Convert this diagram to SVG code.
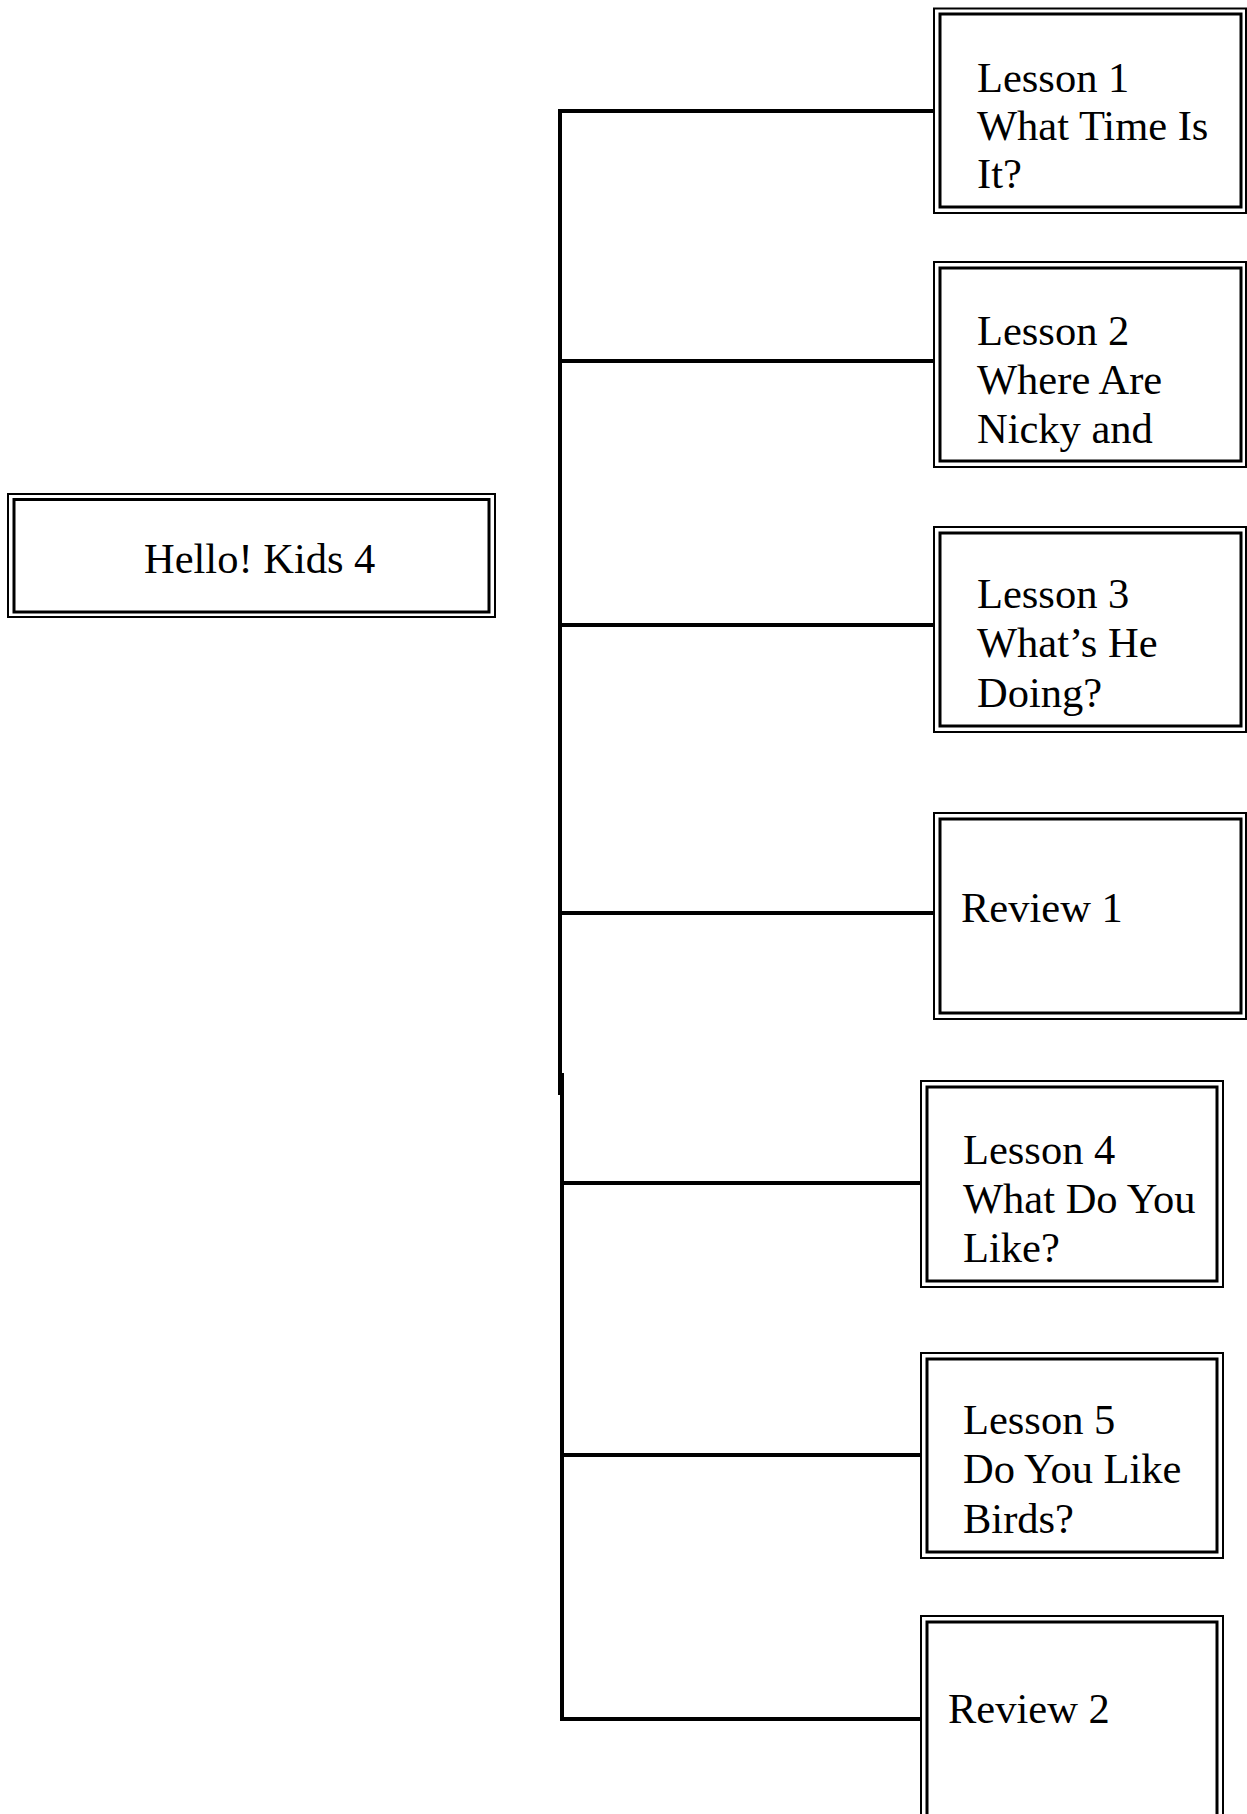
<svg xmlns="http://www.w3.org/2000/svg" width="1247" height="1814" viewBox="0 0 1247 1814">
<style>
.o{fill:none;stroke:#000;stroke-width:2}
.i{fill:none;stroke:#000;stroke-width:3}
.t{font-family:"Liberation Serif","Times New Roman",serif;font-size:42.5px;fill:#000}
.c{fill:none;stroke:#000;stroke-width:4}
</style>
<rect width="1247" height="1814" fill="#fff"/>
<g id="connectors">
<path class="c" d="M560 109V1095M562 1073V1721"/>
<path class="c" d="M558 111H934M560 361H934M560 625H934M560 913H934M562 1183H921M562 1455H921M560 1719H921"/>
</g>
<g id="root">
<rect class="o" x="8" y="494" width="487" height="123"/>
<rect class="i" x="14" y="499.5" width="475" height="112.5"/>
<text class="t" x="144" y="573">Hello! Kids 4</text>
</g>
<g id="lesson1">
<rect class="o" x="934" y="8.5" width="312" height="204.5"/>
<rect class="i" x="940" y="14" width="301" height="193"/>
<text class="t" x="977" y="92">Lesson 1</text>
<text class="t" x="977" y="140">What Time Is</text>
<text class="t" x="977" y="188">It?</text>
</g>
<g id="lesson2">
<rect class="o" x="934" y="262" width="312" height="205"/>
<rect class="i" x="940" y="268" width="301" height="193"/>
<text class="t" x="977" y="345">Lesson 2</text>
<text class="t" x="977" y="394">Where Are</text>
<text class="t" x="977" y="443">Nicky and</text>
</g>
<g id="lesson3">
<rect class="o" x="934" y="527" width="312" height="205"/>
<rect class="i" x="940" y="533" width="301" height="193"/>
<text class="t" x="977" y="608">Lesson 3</text>
<text class="t" x="977" y="657">What’s He</text>
<text class="t" x="977" y="707">Doing?</text>
</g>
<g id="review1">
<rect class="o" x="934" y="813" width="312" height="206"/>
<rect class="i" x="940" y="819" width="301" height="194"/>
<text class="t" x="961" y="922">Review 1</text>
</g>
<g id="lesson4">
<rect class="o" x="921" y="1081" width="302" height="206"/>
<rect class="i" x="927" y="1087" width="290" height="194"/>
<text class="t" x="963" y="1164">Lesson 4</text>
<text class="t" x="963" y="1213">What Do You</text>
<text class="t" x="963" y="1262">Like?</text>
</g>
<g id="lesson5">
<rect class="o" x="921" y="1353" width="302" height="205"/>
<rect class="i" x="927" y="1359" width="290" height="193"/>
<text class="t" x="963" y="1434">Lesson 5</text>
<text class="t" x="963" y="1483">Do You Like</text>
<text class="t" x="963" y="1533">Birds?</text>
</g>
<g id="review2">
<rect class="o" x="921" y="1616" width="302" height="220"/>
<rect class="i" x="927" y="1622" width="290" height="210"/>
<text class="t" x="948" y="1723">Review 2</text>
</g>
</svg>
